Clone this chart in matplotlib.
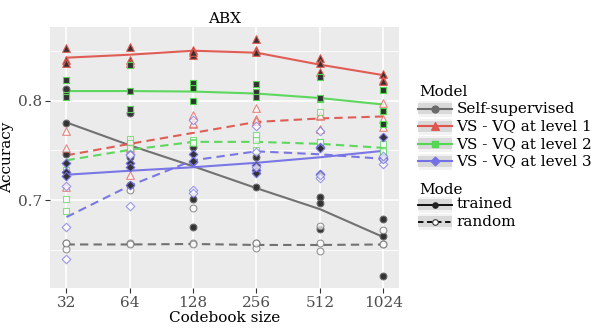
import numpy as np
import matplotlib
matplotlib.use('Agg')
import matplotlib.pyplot as plt
from matplotlib.patches import Rectangle

plt.rcParams['font.family'] = ['DejaVu Serif']

codebook = [32, 64, 128, 256, 512, 1024]
x_labels = ['32', '64', '128', '256', '512', '1024']
models = ['Self-supervised', 'VS - VQ at level 1', 'VS - VQ at level 2', 'VS - VQ at level 3']
modes = ['trained', 'random']

# fitted (smoothed) curves
ss_trained_line = [0.778, 0.755, 0.734, 0.712, 0.691, 0.663]
ss_random_line = [0.6555, 0.6555, 0.656, 0.655, 0.655, 0.6555]
vs1_trained_line = [0.843, 0.846, 0.850, 0.848, 0.836, 0.8255]
vs1_random_line = [0.745, 0.7565, 0.7675, 0.7785, 0.782, 0.784]
vs2_trained_line = [0.8095, 0.8095, 0.809, 0.807, 0.8025, 0.796]
vs2_random_line = [0.740, 0.7505, 0.7585, 0.7585, 0.7565, 0.7525]
vs3_trained_line = [0.7255, 0.7295, 0.733, 0.7375, 0.743, 0.7495]
vs3_random_line = [0.683, 0.7145, 0.740, 0.749, 0.746, 0.7415]

# individual runs per codebook size
ss_trained_pts = [[0.812, 0.7775, 0.7466], [0.787, 0.7435, 0.7155], [0.7534, 0.7007, 0.6735],
                  [0.743, 0.730, 0.7133], [0.703, 0.6973, 0.6713], [0.6812, 0.6644, 0.6243]]
ss_random_pts = [[0.6568, 0.651, 0.6565], [0.7105, 0.6568, 0.656], [0.692, 0.6565, 0.656],
                 [0.6567, 0.6517, 0.657], [0.6745, 0.657, 0.6488], [0.6701, 0.6562, 0.656]]
vs1_trained_pts = [[0.8523, 0.8405, 0.838], [0.8534, 0.8405, 0.838], [0.8507, 0.8455, 0.849],
                   [0.8614, 0.851, 0.849], [0.8423, 0.8372, 0.8289], [0.8265, 0.8205, 0.8195]]
vs1_random_pts = [[0.7695, 0.7527, 0.713], [0.7525, 0.7255, 0.760], [0.7852, 0.7762, 0.7775],
                  [0.7926, 0.7812, 0.779], [0.7842, 0.7718, 0.785], [0.7977, 0.7735, 0.781]]
vs2_trained_pts = [[0.8205, 0.806, 0.8037], [0.8356, 0.8095, 0.791], [0.8178, 0.8121, 0.7993],
                   [0.8164, 0.8087, 0.8037], [0.8232, 0.802, 0.8025], [0.8104, 0.7893, 0.7762]]
vs2_random_pts = [[0.7305, 0.7015, 0.6886], [0.7617, 0.7574, 0.7527], [0.760, 0.7584, 0.757],
                  [0.765, 0.7607, 0.750], [0.7886, 0.7584, 0.758], [0.7567, 0.7483, 0.749]]
vs3_trained_pts = [[0.737, 0.7285, 0.7245], [0.737, 0.733, 0.7155], [0.7466, 0.7383, 0.7395],
                   [0.735, 0.730, 0.727], [0.7534, 0.7265, 0.7525], [0.7634, 0.7416, 0.742]]
vs3_random_pts = [[0.714, 0.6728, 0.6405], [0.746, 0.694, 0.745], [0.7809, 0.7097, 0.7074],
                  [0.7742, 0.748, 0.733], [0.7695, 0.7225, 0.725], [0.736, 0.7415, 0.744]]

y_ticks = [0.7, 0.8]
y_minor = [0.65, 0.75, 0.85]

colors = ['#6b6b6b', '#e0554d', '#55d655', '#7470e6']
markers = ['o', '^', 's', 'D']
msizes = [24, 30, 20, 19]

lines = {('Self-supervised', 'trained'): ss_trained_line, ('Self-supervised', 'random'): ss_random_line,
         ('VS - VQ at level 1', 'trained'): vs1_trained_line, ('VS - VQ at level 1', 'random'): vs1_random_line,
         ('VS - VQ at level 2', 'trained'): vs2_trained_line, ('VS - VQ at level 2', 'random'): vs2_random_line,
         ('VS - VQ at level 3', 'trained'): vs3_trained_line, ('VS - VQ at level 3', 'random'): vs3_random_line}
points = {('Self-supervised', 'trained'): ss_trained_pts, ('Self-supervised', 'random'): ss_random_pts,
          ('VS - VQ at level 1', 'trained'): vs1_trained_pts, ('VS - VQ at level 1', 'random'): vs1_random_pts,
          ('VS - VQ at level 2', 'trained'): vs2_trained_pts, ('VS - VQ at level 2', 'random'): vs2_random_pts,
          ('VS - VQ at level 3', 'trained'): vs3_trained_pts, ('VS - VQ at level 3', 'random'): vs3_random_pts}

W, H = 598, 329
fig = plt.figure(figsize=(W / 100, H / 100), dpi=100)
ax = fig.add_axes([50 / W, 1 - 288 / H, 349 / W, 261 / H])
ax.set_facecolor('#EBEBEB')
ax.set_xscale('log', base=2)
ax.set_xlim(2 ** 4.74, 2 ** 10.25)
ax.set_ylim(0.6118, 0.8738)
for s in ax.spines.values():
    s.set_visible(False)
for v in y_minor:
    ax.axhline(v, color='white', lw=0.6, zorder=0)
for v in y_ticks:
    ax.axhline(v, color='white', lw=1.2, zorder=0)
for v in codebook:
    ax.axvline(v, color='white', lw=1.2, zorder=0)
ax.set_xticks(codebook)
ax.set_xticklabels(x_labels)
ax.xaxis.set_minor_locator(matplotlib.ticker.NullLocator())
ax.set_yticks(y_ticks)
ax.set_yticklabels([str(v) for v in y_ticks])
ax.tick_params(axis='both', length=3.5, width=0.8, color='#333333', labelsize=11,
               labelcolor='#4D4D4D', pad=2)
ax.set_xlabel('Codebook size', fontsize=11, labelpad=1)
ax.set_ylabel('Accuracy', fontsize=11, labelpad=3)
ax.set_title('ABX', fontsize=11, pad=3)

for mi, m in enumerate(models):
    for mode in modes:
        ls = '-' if mode == 'trained' else (0, (4, 2.5))
        ax.plot(codebook, lines[(m, mode)], color=colors[mi], lw=1.5, ls=ls, zorder=2, alpha=0.95)

for mi, m in enumerate(models):
    for mode in modes:
        pts = points[(m, mode)]
        xs = np.repeat(codebook, [len(p) for p in pts])
        ys = np.concatenate([np.asarray(p) for p in pts])
        if mode == 'trained':
            ax.scatter(xs, ys, marker=markers[mi], s=msizes[mi], facecolor='#333333',
                       edgecolor=colors[mi], linewidths=0.8, zorder=3)
        else:
            ax.scatter(xs, ys, marker=markers[mi], s=msizes[mi], facecolor='white',
                       edgecolor=colors[mi], linewidths=0.8, alpha=0.7, zorder=3)

# legend drawn in figure pixel coordinates
lax = fig.add_axes([0, 0, 1, 1])
lax.set_xlim(0, W)
lax.set_ylim(H, 0)
lax.axis('off')
lax.patch.set_alpha(0)

kx0, kx1 = 418, 452
fs = 11
lax.text(419, 92, 'Model', fontsize=fs, va='center', ha='left')
for i, m in enumerate(models):
    yc = 108.5 + 17.6 * i
    lax.add_patch(Rectangle((kx0, yc - 8.5), kx1 - kx0, 17, facecolor='#F2F2F2', edgecolor='white', lw=0.8))
    lax.add_patch(Rectangle((kx0, yc - 5.5), kx1 - kx0, 11, facecolor='#D9D9D9', edgecolor='none'))
    lax.plot([kx0, kx1], [yc, yc], color=colors[i], lw=1.5)
    lax.scatter([(kx0 + kx1) / 2], [yc], marker=markers[i], s=msizes[i] * 1.0, color=colors[i],
                edgecolor=colors[i], zorder=3)
    lax.text(456.5, yc, m, fontsize=fs, va='center', ha='left')

lax.text(419, 190, 'Mode', fontsize=fs, va='center', ha='left')
for i, mode in enumerate(modes):
    yc = 204.5 + 17.4 * i
    lax.add_patch(Rectangle((kx0, yc - 8.5), kx1 - kx0, 17, facecolor='#F2F2F2', edgecolor='white', lw=0.8))
    lax.add_patch(Rectangle((kx0, yc - 5.5), kx1 - kx0, 11, facecolor='#D9D9D9', edgecolor='none'))
    ls = '-' if mode == 'trained' else (0, (3, 2))
    lax.plot([kx0, kx1], [yc, yc], color='black', lw=1.3, ls=ls)
    fc = '#222222' if mode == 'trained' else 'white'
    lax.scatter([(kx0 + kx1) / 2], [yc], marker='o', s=16, facecolor=fc, edgecolor='#222222',
                linewidths=0.7, zorder=3)
    lax.text(456.5, yc, mode, fontsize=fs, va='center', ha='left')

fig.savefig('out.png', dpi=100)
